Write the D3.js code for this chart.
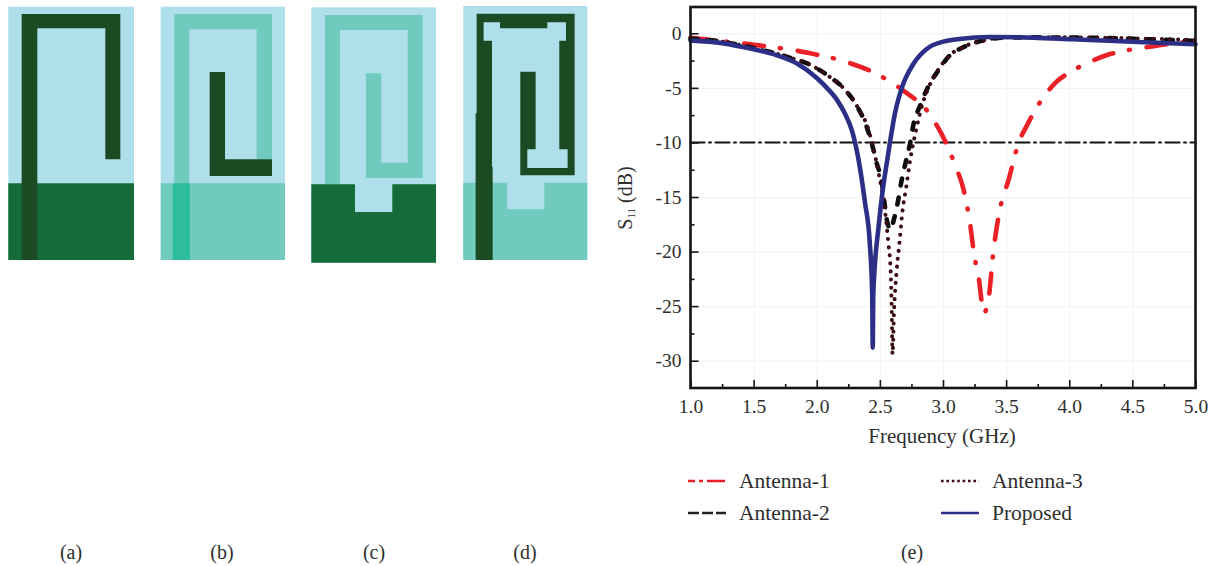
<!DOCTYPE html>
<html>
<head>
<meta charset="utf-8">
<script src="https://cdn.jsdelivr.net/npm/d3@7"></script>
<style>
  body { margin: 0; background: #fff; }
  svg { display: block; }
  text { font-family: "Liberation Serif", serif; fill: #2e2e2e; }
  .tick text { font-size: 19.5px; font-family: "Liberation Serif", serif; }
  .grid line { stroke: #f1f1f3; stroke-width: 1; }
  .grid .domain { display: none; }
  .axis line, .axis path { stroke: #141414; }
  .curve { fill: none; stroke-linejoin: round; stroke-linecap: round; }
</style>
</head>
<body>
<div id="root"></div>
<script>
// S11 curves (GHz, dB)
const freqAntenna1 = [1.0, 1.15, 1.52, 1.95, 2.21, 2.475, 2.68, 2.9, 3.0, 3.055, 3.095, 3.16, 3.21, 3.25, 3.28, 3.325, 3.36, 3.4, 3.45, 3.52, 3.6, 3.66, 3.79, 3.9, 4.0, 4.14, 4.3, 4.43, 4.59, 4.77, 5.0];
const s11Antenna1 = [-0.4, -0.6, -1.07, -1.83, -2.54, -3.73, -5.2, -7.5, -9.47, -10.85, -12.06, -14.2, -17.1, -20.5, -22.2, -25.6, -24.4, -19.9, -16.2, -13.4, -10, -8.55, -5.95, -4.43, -3.6, -2.75, -1.99, -1.62, -1.32, -1.0, -0.68];

const freqAntenna2 = [1.0, 1.2, 1.5, 1.76, 1.95, 2.1, 2.21, 2.32, 2.395, 2.435, 2.475, 2.515, 2.535, 2.555, 2.585, 2.61, 2.645, 2.67, 2.705, 2.74, 2.765, 2.82, 2.88, 2.96, 3.04, 3.175, 3.345, 3.53, 4.14, 4.64, 5.0];
const s11Antenna2 = [-0.5, -0.68, -1.35, -2.14, -2.9, -3.97, -5, -6.7, -8.55, -10.05, -11.9, -13.6, -15.4, -17.1, -18, -17.1, -15.3, -13.6, -11.8, -10.05, -8.4, -6.6, -4.95, -3.45, -2.2, -1.2, -0.6, -0.37, -0.4, -0.55, -0.7];

const freqAntenna3 = [1.0, 1.2, 1.5, 1.76, 1.95, 2.1, 2.21, 2.32, 2.41, 2.488, 2.54, 2.567, 2.585, 2.594, 2.6, 2.612, 2.633, 2.655, 2.68, 2.71, 2.74, 2.787, 2.84, 2.9, 2.97, 3.05, 3.18, 3.35, 3.53, 4.14, 4.64, 5.0];
const s11Antenna3 = [-0.5, -0.68, -1.35, -2.14, -2.9, -3.97, -5, -6.7, -8.85, -12.7, -16.2, -19.2, -21.7, -25.5, -29.4, -25.5, -21.7, -19.2, -16.2, -14, -11.6, -8.85, -6.4, -4.6, -3.2, -2.05, -1.15, -0.58, -0.36, -0.38, -0.5, -0.62];

const freqProposed = [1.0, 1.25, 1.5, 1.68, 1.84, 2.0, 2.08, 2.16, 2.225, 2.277, 2.33, 2.382, 2.42, 2.4395, 2.4435, 2.4475, 2.456, 2.49, 2.527, 2.56, 2.58, 2.62, 2.65, 2.686, 2.74, 2.79, 2.84, 2.9, 2.976, 3.13, 3.37, 3.71, 4.03, 4.5, 5.0];
const s11Proposed = [-0.65, -0.9, -1.47, -2.0, -2.75, -4.1, -5.0, -6.1, -7.4, -8.85, -11.5, -15.5, -19.2, -24, -28.8, -24, -22, -17.7, -14, -11.5, -10, -7.3, -5.9, -4.6, -3.3, -2.4, -1.75, -1.2, -0.85, -0.52, -0.34, -0.4, -0.55, -0.77, -1.0];

const refFreq = [1, 5];
const refLevel = [-10, -10];

const xTicks = [1, 1.5, 2, 2.5, 3, 3.5, 4, 4.5, 5];
const xMinorTicks = [1.25, 1.75, 2.25, 2.75, 3.25, 3.75, 4.25, 4.75];
const yTicks = [0, -5, -10, -15, -20, -25, -30];
const yMinorTicks = [-2.5, -7.5, -12.5, -17.5, -22.5, -27.5];

const seriesNames = ['Antenna-1', 'Antenna-2', 'Antenna-3', 'Proposed'];
const panelLabels = ['(a)', '(b)', '(c)', '(d)', '(e)'];

// Antenna layouts, traced in the panel's own units
const stripA = [[65, 42], [361, 42], [361, 478], [316, 478], [316, 85], [112, 85], [112, 780], [65, 780]];
const stripB = [[523, 42], [816, 42], [816, 478], [770, 478], [770, 88], [568, 88], [568, 780], [523, 780]];
const feedB = [[518, 550], [570, 550], [570, 780], [518, 780]];
const stubB = [[629, 216], [675, 216], [675, 478], [816, 478], [816, 528], [629, 528]];
const groundC = [[34, 553], [165, 553], [165, 636], [277, 636], [277, 553], [408, 553], [408, 788], [34, 788]];
const stripC = [[75, 45], [368, 45], [368, 534], [198, 534], [198, 220], [244, 220], [244, 488], [323, 488], [323, 90], [120, 90], [120, 553], [75, 553]];
const groundD = [[490, 548], [622, 548], [622, 628], [733, 628], [733, 548], [862, 548], [862, 780], [490, 780]];
const stripD = [[530, 41], [824, 41], [824, 526], [661, 526], [661, 215], [707, 215], [707, 448], [682, 448], [682, 504], [803, 504], [803, 448], [778, 448], [778, 122], [798, 122], [798, 67], [742, 67], [742, 85], [600, 85], [600, 67], [551, 67], [551, 122], [576, 122], [576, 500], [578, 500], [578, 780], [527, 780], [527, 340], [530, 340]];
const groundAB = (l, r) => [[l, 550], [r, 550], [r, 780], [l, 780]];

const width = 1216;
const height = 566;
const frame = { left: 690.5, right: 1195.5, top: 7, bottom: 388 };

const COLOR = { sub: '#b0dfec', ground: '#146c38', copper: '#1a4b22', teal: '#70cabd', overlap: '#2dbd9c' };

const svg = d3.select('#root').append('svg')
  .attr('width', width)
  .attr('height', height);

drawPanels();
drawPlot();
drawLegend();

function drawPanels() {
  const panels = [
    { dx: [25, 402], dy: [20, 780], rx: [8.3, 134], ry: [6.7, 260],
      layers: [[groundAB(25, 402), COLOR.ground], [stripA, COLOR.copper]] },
    { dx: [482, 855], dy: [20, 780], rx: [160.7, 285], ry: [6.7, 260],
      layers: [[groundAB(482, 855), COLOR.teal], [stripB, COLOR.teal], [feedB, COLOR.overlap], [stubB, COLOR.copper]] },
    { dx: [34, 408], dy: [22, 788], rx: [311.3, 436], ry: [7.3, 262.7],
      layers: [[stripC, COLOR.teal], [groundC, COLOR.ground]] },
    { dx: [490, 862], dy: [18, 780], rx: [463.3, 587.3], ry: [6, 260],
      layers: [[groundD, COLOR.teal], [stripD, COLOR.copper]] },
  ];

  panels.forEach(p => {
    const px = d3.scaleLinear().domain(p.dx).range(p.rx);
    const py = d3.scaleLinear().domain(p.dy).range(p.ry);
    const line = d3.line().x(d => px(d[0])).y(d => py(d[1]));
    const g = svg.append('g').attr('class', 'panel');

    g.append('rect')
      .attr('x', px(p.dx[0]))
      .attr('y', py(p.dy[0]))
      .attr('width', px(p.dx[1]) - px(p.dx[0]))
      .attr('height', py(p.dy[1]) - py(p.dy[0]))
      .attr('fill', COLOR.sub);

    g.selectAll('path')
      .data(p.layers)
      .enter()
      .append('path')
      .attr('d', d => line(d[0]) + 'Z')
      .attr('fill', d => d[1]);
  });

  svg.selectAll('.panel-label')
    .data(panelLabels)
    .enter()
    .append('text')
    .attr('class', 'panel-label')
    .attr('x', (d, i) => [71, 222, 374, 525, 912][i])
    .attr('y', 559)
    .attr('text-anchor', 'middle')
    .attr('font-size', 20)
    .text(d => d);
}

function drawPlot() {
  const x = d3.scaleLinear().domain([1, 5]).range([frame.left, frame.right]);
  const y = d3.scaleLinear().domain([-32.5, 2.41]).range([frame.bottom, frame.top]);
  const plotW = frame.right - frame.left;
  const plotH = frame.bottom - frame.top;

  svg.append('g')
    .attr('class', 'grid')
    .attr('transform', `translate(0, ${frame.bottom})`)
    .call(d3.axisBottom(x).tickValues(xTicks).tickSize(-plotH).tickFormat(''));

  svg.append('g')
    .attr('class', 'grid')
    .attr('transform', `translate(${frame.left}, 0)`)
    .call(d3.axisLeft(y).tickValues(yTicks).tickSize(-plotW).tickFormat(''));

  const curves = [
    { fx: refFreq, fy: refLevel, stroke: '#141414', w: 2, dash: '14 4.5 2 4.5', cap: 'butt' },
    { fx: freqAntenna1, fy: s11Antenna1, stroke: '#ec2027', w: 4.6, dash: '20 16 1 17' },
    { fx: freqAntenna2, fy: s11Antenna2, stroke: '#0d0d0d', w: 4.6, dash: '7 12' },
    { fx: freqAntenna3, fy: s11Antenna3, stroke: '#3d0c14', w: 4, dash: '0.1 8' },
    { fx: freqProposed, fy: s11Proposed, stroke: '#2b3086', w: 4.6, dash: null },
  ];

  curves.forEach(c => {
    const line = d3.line()
      .x(d => x(d[0]))
      .y(d => y(d[1]))
      .curve(d3.curveMonotoneX);

    svg.append('path')
      .datum(d3.zip(c.fx, c.fy))
      .attr('class', 'curve')
      .attr('d', line)
      .attr('stroke', c.stroke)
      .attr('stroke-width', c.w)
      .attr('stroke-dasharray', c.dash)
      .attr('stroke-linecap', c.cap || 'round');
  });

  // frame
  svg.append('rect')
    .attr('x', frame.left)
    .attr('y', frame.top)
    .attr('width', plotW)
    .attr('height', plotH)
    .attr('fill', 'none')
    .attr('stroke', '#141414')
    .attr('stroke-width', 2.6);

  const xAxis = svg.append('g')
    .attr('class', 'axis')
    .attr('transform', `translate(0, ${frame.bottom})`)
    .call(d3.axisBottom(x).tickValues(xTicks).tickFormat(d3.format('.1f')).tickSize(-8).tickPadding(11).tickSizeOuter(0));
  xAxis.selectAll('.tick line').attr('stroke-width', 1.6);
  xAxis.select('.domain').remove();

  const xMinor = svg.append('g')
    .attr('class', 'axis')
    .attr('transform', `translate(0, ${frame.bottom})`)
    .call(d3.axisBottom(x).tickValues(xMinorTicks).tickFormat('').tickSize(-4));
  xMinor.selectAll('.tick line').attr('stroke-width', 1.6);
  xMinor.select('.domain').remove();

  const yAxis = svg.append('g')
    .attr('class', 'axis')
    .attr('transform', `translate(${frame.left}, 0)`)
    .call(d3.axisLeft(y).tickValues(yTicks).tickFormat(d => d).tickSize(-8).tickPadding(9).tickSizeOuter(0));
  yAxis.selectAll('.tick line').attr('stroke-width', 1.6);
  yAxis.selectAll('.tick text').text(d => String(d));
  yAxis.select('.domain').remove();

  const yMinor = svg.append('g')
    .attr('class', 'axis')
    .attr('transform', `translate(${frame.left}, 0)`)
    .call(d3.axisLeft(y).tickValues(yMinorTicks).tickFormat('').tickSize(-4));
  yMinor.selectAll('.tick line').attr('stroke-width', 1.6);
  yMinor.select('.domain').remove();

  svg.append('text')
    .attr('x', 942)
    .attr('y', 443)
    .attr('text-anchor', 'middle')
    .attr('font-size', 21)
    .text('Frequency (GHz)');

  const yLabel = svg.append('text')
    .attr('transform', 'translate(632, 198) rotate(-90)')
    .attr('text-anchor', 'middle')
    .attr('font-size', 20);
  yLabel.append('tspan').text('S');
  yLabel.append('tspan').attr('font-size', 11).attr('dy', 3).text('11');
  yLabel.append('tspan').attr('dy', -3).text(' (dB)');
}

function drawLegend() {
  const styles = [
    { stroke: '#ec2027', w: 2.6, dash: '18 4 4 4', offset: 11 },
    { stroke: '#222', w: 2.6, dash: '11 3', offset: 0 },
    { stroke: '#3d0c14', w: 2.6, dash: '2.6 2.8', offset: 0 },
    { stroke: '#2b3086', w: 2.6, dash: null, offset: 0 },
  ];
  const colX = d3.scaleOrdinal().domain(seriesNames).range([688, 688, 941, 941]);
  const rowY = d3.scaleOrdinal().domain(seriesNames).range([481, 513, 481, 513]);

  const item = svg.selectAll('.legend')
    .data(seriesNames)
    .enter()
    .append('g')
    .attr('class', 'legend')
    .attr('transform', d => `translate(${colX(d)}, ${rowY(d)})`);

  item.append('line')
    .attr('x2', 38)
    .attr('stroke', (d, i) => styles[i].stroke)
    .attr('stroke-width', (d, i) => styles[i].w)
    .attr('stroke-dasharray', (d, i) => styles[i].dash)
    .attr('stroke-dashoffset', (d, i) => styles[i].offset);

  item.append('text')
    .attr('x', 51)
    .attr('y', 7)
    .attr('font-size', 21.5)
    .text(d => d);
}
</script>
</body>
</html>
